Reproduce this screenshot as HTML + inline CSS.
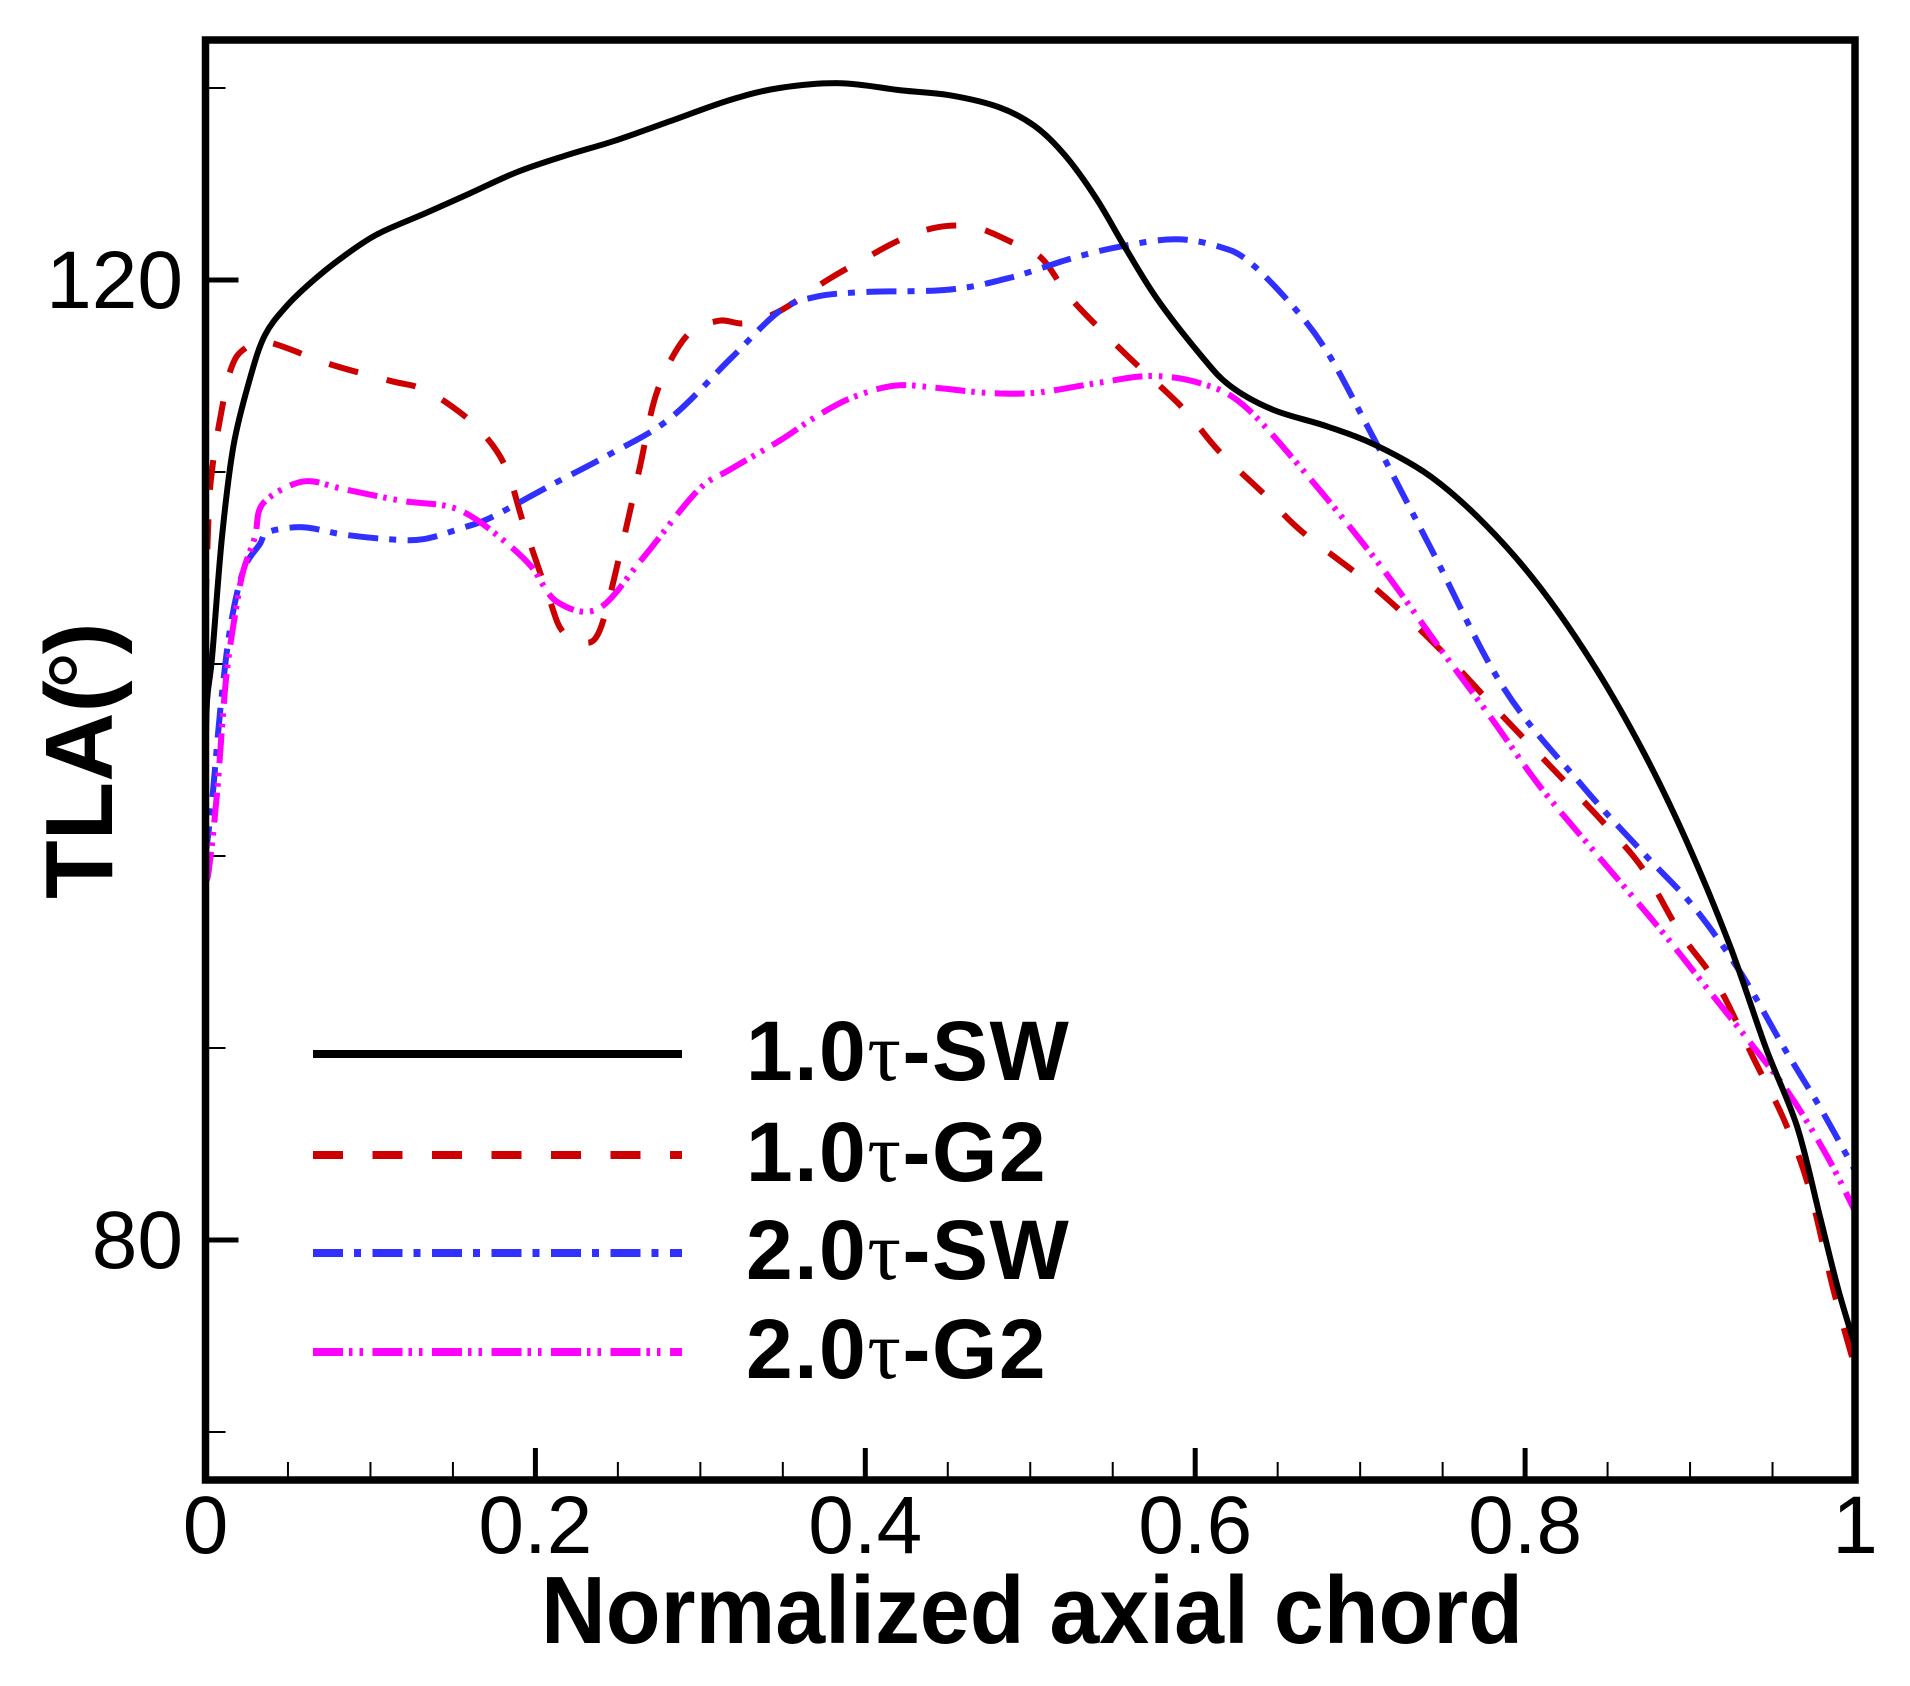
<!DOCTYPE html>
<html lang="en">
<head>
<meta charset="utf-8">
<title>TLA vs normalized axial chord</title>
<style>
html,body{margin:0;padding:0;background:#fff;}
svg{display:block;}
text{font-family:"Liberation Sans",sans-serif;fill:#000;}
.tick-label{font-size:82px;}
.legend-label{font-size:84px;font-weight:bold;letter-spacing:1.5px;}
.legend-label .tau{font-family:"Liberation Serif",serif;font-weight:normal;}
.axis-title{font-size:96px;font-weight:bold;}
</style>
</head>
<body>
<svg id="chart" xmlns="http://www.w3.org/2000/svg" width="1910" height="1686" viewBox="0 0 1910 1686">
  <rect x="0" y="0" width="1910" height="1686" fill="#fff"/>
  <g id="ticks"></g>
  <g id="tick-labels"></g>
  <g id="series"></g>
  <rect x="205.5" y="40" width="1649.5" height="1440" fill="none" stroke="#000" stroke-width="7.5"/>
  <text class="axis-title" x="541" y="1643" textLength="982" lengthAdjust="spacingAndGlyphs">Normalized axial chord</text>
  <g transform="translate(112,899) rotate(-90)">
    <text class="axis-title" x="0" y="0">TLA(<tspan font-weight="normal" font-size="100" dx="-10" dy="7">°</tspan><tspan dx="-4" dy="-7">)</tspan></text>
  </g>
  <g>
    <line x1="313" x2="682" y1="1054" y2="1054" stroke="#000" stroke-width="8"/>
    <line x1="313" x2="682" y1="1155" y2="1155" stroke="#cc0000" stroke-width="8" stroke-dasharray="30 29.5"/>
    <line x1="313" x2="682" y1="1253" y2="1253" stroke="#3030ff" stroke-width="8" stroke-dasharray="30 11 7 11.5"/>
    <line x1="313" x2="682" y1="1352" y2="1352" stroke="#ff00ff" stroke-width="8" stroke-dasharray="30 6 3.5 7 3.5 9.5"/>
    <text class="legend-label" x="746" y="1080">1.0<tspan class="tau">τ</tspan>-SW</text>
    <text class="legend-label" x="746" y="1181">1.0<tspan class="tau">τ</tspan>-G2</text>
    <text class="legend-label" x="746" y="1279">2.0<tspan class="tau">τ</tspan>-SW</text>
    <text class="legend-label" x="746" y="1378">2.0<tspan class="tau">τ</tspan>-G2</text>
  </g>
</svg>
<script>
const xMajorTicks = [0, 0.2, 0.4, 0.6, 0.8, 1];
const xMajorLabels = ["0", "0.2", "0.4", "0.6", "0.8", "1"];
const xMinorTicks = [0.05, 0.1, 0.15, 0.25, 0.3, 0.35, 0.45, 0.5, 0.55, 0.65, 0.7, 0.75, 0.85, 0.9, 0.95];
const yMajorTicks = [120, 80];
const yMajorLabels = ["120", "80"];
const yMinorTicks = [128, 112, 104, 96, 88, 72];

const sw10X = [0,.001,.004,.010,.017,.027,.036,.049,.064,.082,.104,.134,.160,.189,.219,.248,.281,.318,.348,.385,.422,.451,.481,.503,.521,.540,.558,.577,.603,.621,.647,.680,.710,.743,.776,.809,.843,.872,.898,.924,.946,.965,.979,.990,1];
const sw10Y = [100,102.5,104.3,109.3,113.1,115.9,117.7,118.9,119.9,120.9,121.9,122.8,123.6,124.5,125.2,125.8,126.6,127.5,128.0,128.2,127.9,127.7,127.2,126.4,125.2,123.4,121.3,119.2,116.9,115.6,114.6,113.9,113.1,111.8,109.8,107.2,103.8,100.3,96.6,92.3,88.0,84.7,80.9,77.9,75.6];

const g210X = [0,.002,.004,.008,.015,.023,.038,.075,.112,.130,.148,.167,.182,.193,.208,.216,.228,.239,.252,.263,.274,.292,.311,.327,.348,.377,.400,.422,.444,.466,.488,.507,.525,.558,.592,.614,.643,.665,.710,.750,.784,.809,.850,.872,.894,.917,.939,.957,.972,.987,1];
const g210Y = [106.3,110.4,112.1,113.9,116.2,117.1,117.4,116.5,115.8,115.5,114.8,113.7,112.2,109.8,106.8,105.4,104.9,105.4,108.8,112.1,115.4,117.7,118.3,118.2,118.7,120.0,120.9,121.7,122.2,122.2,121.6,120.9,119.2,116.9,114.7,112.9,111.0,109.5,107.1,104.5,102.0,100.2,97.2,95.4,92.8,90.6,87.5,85.0,82.2,77.9,74.7];

const sw20X = [0,.004,.009,.015,.023,.033,.038,.059,.083,.111,.132,.157,.173,.208,.244,.281,.318,.348,.370,.400,.451,.488,.525,.555,.588,.614,.632,.658,.680,.706,.743,.787,.835,.872,.902,.931,.957,.979,1];
const sw20Y = [96,98.3,102.1,105.5,107.9,109.0,109.5,109.7,109.4,109.2,109.2,109.7,110.1,111.4,112.7,114.2,116.7,118.7,119.3,119.5,119.6,120.1,120.9,121.4,121.7,121.4,120.8,119.0,117.0,113.7,108.8,103.0,98.9,96.1,93.9,91.1,88.0,85.5,82.9];

const g220X = [0,.002,.007,.0125,.019,.023,.030,.035,.059,.083,.119,.145,.160,.178,.197,.213,.238,.265,.298,.318,.348,.370,.392,.418,.444,.473,.503,.540,.573,.603,.629,.665,.710,.750,.780,.809,.843,.880,.909,.939,.961,.983,1];
const g220Y = [95,95.4,98.6,103.4,106.5,107.9,109.3,110.7,111.6,111.3,110.8,110.6,110.2,109.3,108.1,106.6,106.3,108.4,111.2,112.1,113.3,114.3,115.1,115.6,115.5,115.3,115.3,115.7,116.0,115.7,114.8,112.1,108.3,104.5,101.7,98.9,96.1,93.1,90.6,88.0,86.0,83.5,81.2];

const SVG_NS = "http://www.w3.org/2000/svg";
const PLOT_LEFT = 205.5, PLOT_RIGHT = 1855, PLOT_TOP = 40, PLOT_BOTTOM = 1480;
const X_MIN = 0, X_MAX = 1, Y_MIN = 70, Y_MAX = 130;
function xScale(v){ return PLOT_LEFT + (v - X_MIN) / (X_MAX - X_MIN) * (PLOT_RIGHT - PLOT_LEFT); }
function yScale(v){ return PLOT_BOTTOM - (v - Y_MIN) / (Y_MAX - Y_MIN) * (PLOT_BOTTOM - PLOT_TOP); }

function smoothPath(xs, ys){
  const p = xs.map(function(x, i){ return [xScale(x), yScale(ys[i])]; });
  let d = "M" + p[0][0].toFixed(1) + " " + p[0][1].toFixed(1);
  for (let i = 0; i < p.length - 1; i++){
    const a = p[Math.max(i - 1, 0)], b = p[i], c = p[i + 1], e = p[Math.min(i + 2, p.length - 1)];
    const c1x = b[0] + (c[0] - a[0]) / 6, c1y = b[1] + (c[1] - a[1]) / 6;
    const c2x = c[0] - (e[0] - b[0]) / 6, c2y = c[1] - (e[1] - b[1]) / 6;
    d += "C" + c1x.toFixed(1) + " " + c1y.toFixed(1) + " " + c2x.toFixed(1) + " " + c2y.toFixed(1) + " " + c[0].toFixed(1) + " " + c[1].toFixed(1);
  }
  return d;
}

const tickGroup = document.getElementById("ticks");
const labelGroup = document.getElementById("tick-labels");
const seriesGroup = document.getElementById("series");

function addTick(x1, y1, x2, y2, width, name){
  const t = document.createElementNS(SVG_NS, "line");
  t.setAttribute("x1", x1);
  t.setAttribute("y1", y1);
  t.setAttribute("x2", x2);
  t.setAttribute("y2", y2);
  t.setAttribute("stroke", "#000");
  t.setAttribute("stroke-width", width);
  
  
  tickGroup.appendChild(t);
}
function addLabel(x, y, anchor, str, name){
  const t = document.createElementNS(SVG_NS, "text");
  t.setAttribute("x", x);
  t.setAttribute("y", y);
  t.setAttribute("text-anchor", anchor);
  t.setAttribute("class", "tick-label");
  t.textContent = str;
  
  
  labelGroup.appendChild(t);
}

xMajorTicks.forEach(function(v, i){
  if (v > X_MIN && v < X_MAX) addTick(xScale(v), PLOT_BOTTOM, xScale(v), PLOT_BOTTOM - 32, 5, "x-major-tick");
  addLabel(xScale(v), 1553, "middle", xMajorLabels[i], "x-tick-label");
});
xMinorTicks.forEach(function(v){
  addTick(xScale(v), PLOT_BOTTOM, xScale(v), PLOT_BOTTOM - 18, 2, "x-minor-tick");
});
yMajorTicks.forEach(function(v, i){
  addTick(PLOT_LEFT, yScale(v), PLOT_LEFT + 33, yScale(v), 5, "y-major-tick");
  addLabel(183, yScale(v) + 28, "end", yMajorLabels[i], "y-tick-label");
});
yMinorTicks.forEach(function(v){
  addTick(PLOT_LEFT, yScale(v), PLOT_LEFT + 20, yScale(v), 2, "y-minor-tick");
});

function addSeries(xs, ys, color, dash, name){
  const s = document.createElementNS(SVG_NS, "path");
  s.setAttribute("d", smoothPath(xs, ys));
  s.setAttribute("fill", "none");
  s.setAttribute("stroke", color);
  s.setAttribute("stroke-width", "6");
  if (dash) s.setAttribute("stroke-dasharray", dash);
  
  
  seriesGroup.appendChild(s);
}
addSeries(g210X, g210Y, "#cc0000", "30 29.5", "series-1-0-g2");
addSeries(sw20X, sw20Y, "#3030ff", "30 11 7 11.5", "series-2-0-sw");
addSeries(g220X, g220Y, "#ff00ff", "30 6 3.5 7 3.5 9.5", "series-2-0-g2");
addSeries(sw10X, sw10Y, "#000", "", "series-1-0-sw");
</script>
</body>
</html>
